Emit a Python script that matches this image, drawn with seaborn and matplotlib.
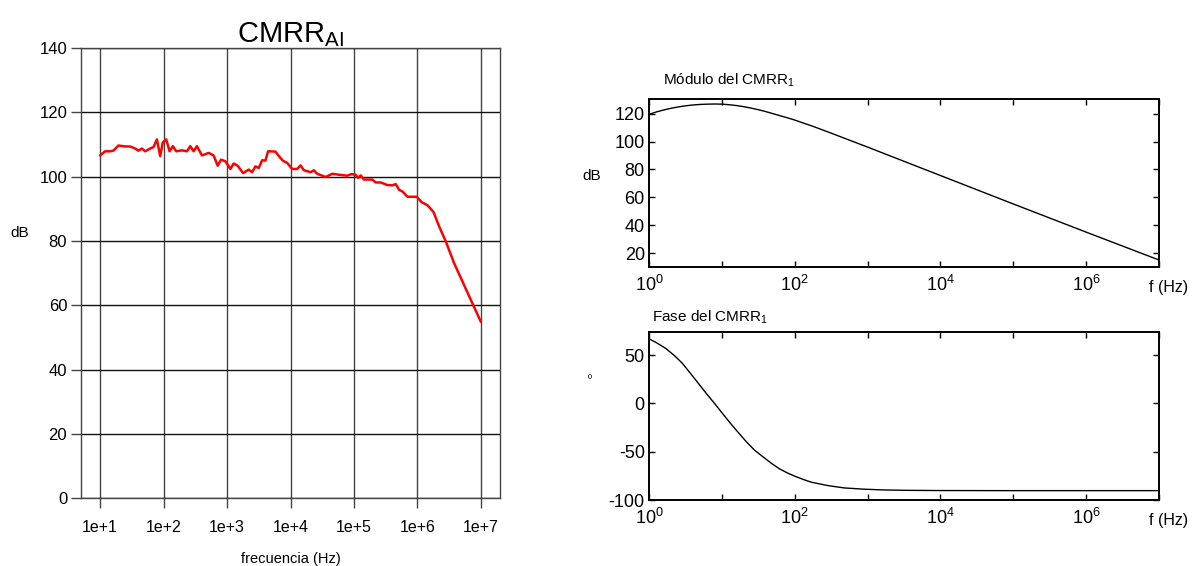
import numpy as np
import pandas as pd
import matplotlib
matplotlib.use("Agg")
import matplotlib.pyplot as plt
import matplotlib.ticker as mticker
import seaborn as sns

# ---------------------------------------------------------------------------
# Data
# ---------------------------------------------------------------------------

# Measured CMRR (left panel): log10(frequency) and dB
meas_exp = [1.0, 1.079, 1.158, 1.211, 1.289, 1.395, 1.474, 1.553, 1.605, 1.658,
            1.711, 1.789, 1.842, 1.895, 1.947, 1.989, 2.042, 2.095, 2.147, 2.2,
            2.289, 2.368, 2.421, 2.474, 2.526, 2.605, 2.711, 2.789, 2.853, 2.905,
            2.974, 3.053, 3.105, 3.168, 3.253, 3.342, 3.395, 3.447, 3.5, 3.553,
            3.605, 3.647, 3.763, 3.816, 3.884, 3.947, 4.026, 4.105, 4.158, 4.211,
            4.316, 4.368, 4.421, 4.553, 4.658, 4.763, 4.895, 4.958, 5.026, 5.063,
            5.105, 5.158, 5.289, 5.342, 5.421, 5.526, 5.605, 5.658, 5.711, 5.763,
            5.842, 5.989, 6.063, 6.158, 6.253, 6.342, 6.447, 6.579, 6.711, 6.842,
            7.0]
meas_db = [106.6, 107.9, 107.9, 108.1, 109.7, 109.4, 109.4, 108.75, 108.1, 108.75,
           107.9, 108.75, 109.2, 111.6, 106.4, 110.7, 111.6, 107.9, 109.5, 107.9,
           108.2, 107.9, 109.5, 107.9, 109.5, 106.6, 107.4, 106.6, 103.4, 105.3,
           104.8, 102.4, 104.1, 103.4, 101.1, 102.2, 101.4, 103.2, 102.7, 105.1,
           105.0, 107.9, 107.8, 106.4, 104.9, 104.3, 102.4, 102.4, 103.5, 102.0,
           101.4, 102.0, 100.9, 99.9, 100.9, 100.6, 100.3, 100.8, 100.6, 99.6,
           100.4, 99.1, 99.1, 98.2, 98.2, 97.4, 97.3, 97.7, 95.9, 95.4,
           93.75, 93.75, 92.1, 91.1, 89.0, 84.5, 79.8, 73.0, 67.3, 61.6,
           54.8]

# Simulated CMRR1 modulus (top right)
mod_exp = [0.0, 0.1, 0.2, 0.3, 0.4, 0.5, 0.6, 0.7, 0.8, 0.9, 1.0, 1.1, 1.2,
           1.3, 1.4, 1.5, 1.6, 1.7, 1.8, 1.9, 2.0, 2.25, 2.5, 3.0, 3.5, 4.0,
           4.5, 5.0, 5.5, 6.0, 6.5, 7.0]
mod_db = [119.5, 121.2, 122.6, 123.8, 124.8, 125.6, 126.2, 126.6, 126.8, 126.9,
          126.8, 126.4, 125.8, 125.0, 124.0, 122.8, 121.5, 120.0, 118.5, 117.0,
          115.4, 110.9, 106.0, 96.0, 85.8, 75.6, 65.4, 55.2, 45.1, 35.0, 25.0,
          15.0]

# Simulated CMRR1 phase (bottom right)
fase_exp = [0.0, 0.1, 0.23, 0.35, 0.456, 0.56, 0.678, 0.79, 0.9, 1.01, 1.12,
            1.23, 1.34, 1.45, 1.57, 1.68, 1.79, 1.9, 2.0, 2.12, 2.23, 2.45,
            2.68, 2.95, 3.23, 3.57, 4.0, 5.0, 6.0, 7.0]
fase_deg = [67.0, 63.0, 57.0, 49.5, 41.7, 32.0, 20.8, 10.0, 0.0, -10.5, -20.8,
            -30.5, -40.0, -48.5, -55.6, -62.0, -67.7, -72.0, -75.3, -78.8,
            -81.6, -85.0, -87.5, -88.8, -89.6, -90.0, -90.2, -90.3, -90.3, -90.3]

left_yticks = [0, 20, 40, 60, 80, 100, 120, 140]
left_xticks = [1e1, 1e2, 1e3, 1e4, 1e5, 1e6, 1e7]

meas = pd.DataFrame({"f": 10 ** np.array(meas_exp), "dB": meas_db})
mod = pd.DataFrame({"f": 10 ** np.array(mod_exp), "dB": mod_db})
fase = pd.DataFrame({"f": 10 ** np.array(fase_exp), "deg": fase_deg})

# ---------------------------------------------------------------------------
# Style
# ---------------------------------------------------------------------------
sns.set_style("white")
plt.rcParams["font.family"] = ["Liberation Sans", "DejaVu Sans"]
plt.rcParams["mathtext.fontset"] = "custom"
plt.rcParams["mathtext.rm"] = "Liberation Sans"
plt.rcParams["mathtext.it"] = "Liberation Sans"
plt.rcParams["mathtext.default"] = "regular"
plt.rcParams["axes.unicode_minus"] = False
plt.rcParams["text.color"] = "black"
plt.rcParams["axes.labelcolor"] = "black"
plt.rcParams["xtick.color"] = "black"
plt.rcParams["ytick.color"] = "black"

fig = plt.figure(figsize=(11.95, 5.66), dpi=100)
ax_l = fig.add_axes([0.0678, 0.120, 0.3506, 0.795])
ax_m = fig.add_axes([0.5431, 0.5283, 0.4268, 0.2968])
ax_f = fig.add_axes([0.5431, 0.1166, 0.4268, 0.2968])

# ---------------------------------------------------------------------------
# Left: measured CMRR_AI
# ---------------------------------------------------------------------------
sns.lineplot(data=meas, x="f", y="dB", ax=ax_l, color="#ff0000", lw=1.8)
ax_l.set_xscale("log")
ax_l.set_xlim(10 ** 0.7, 10 ** 7.3)
ax_l.set_ylim(0, 140)
ax_l.set_xticks(left_xticks)
ax_l.xaxis.set_major_formatter(
    mticker.FuncFormatter(lambda v, _: f"1e+{int(round(np.log10(v)))}"))
ax_l.xaxis.set_minor_locator(mticker.NullLocator())
ax_l.set_yticks(left_yticks)
ax_l.grid(True, which="major", axis="y", color="#111111", lw=1.0)
ax_l.grid(True, which="major", axis="x", color="#444444", lw=1.0)
for s in ax_l.spines.values():
    s.set_color("#444444")
    s.set_linewidth(1.0)
ax_l.tick_params(axis="both", direction="out", length=7, width=1,
                 bottom=True, left=True, color="#444444",
                 labelcolor="black", labelsize=12, pad=3)
ax_l.tick_params(axis="x", labelsize=11.5, pad=9)
ax_l.set_title("CMRR$_{AI}$", fontsize=21, pad=4)
ax_l.set_xlabel("frecuencia (Hz)", fontsize=10.5)
ax_l.xaxis.set_label_coords(0.5, -0.12)
ax_l.set_ylabel("dB", fontsize=11, rotation=0)
ax_l.yaxis.set_label_coords(-0.146, 0.573)

# ---------------------------------------------------------------------------
# Right: simulated CMRR1 (modulus and phase)
# ---------------------------------------------------------------------------
def matlab_axes(ax):
    ax.set_xscale("log")
    ax.set_xlim(1, 1e7)
    ax.xaxis.set_major_locator(mticker.LogLocator(base=10, numticks=20))
    ax.xaxis.set_minor_locator(mticker.NullLocator())
    ax.xaxis.set_major_formatter(mticker.FuncFormatter(
        lambda v, _: f"$10^{{{int(round(np.log10(v)))}}}$"
        if int(round(np.log10(v))) % 2 == 0 else ""))
    for s in ax.spines.values():
        s.set_color("black")
        s.set_linewidth(1.4)
    ax.tick_params(axis="both", direction="in", length=4, width=1,
                   bottom=True, left=True, top=True, right=True,
                   labelsize=13, pad=3)
    ax.tick_params(axis="x", pad=6)
    ax.text(1.018, -0.12, "f (Hz)", transform=ax.transAxes,
            ha="center", va="center", fontsize=11.5)


sns.lineplot(data=mod, x="f", y="dB", ax=ax_m, color="black", lw=1.0)
matlab_axes(ax_m)
ax_m.set_ylim(10, 130.5)
ax_m.set_yticks([20, 40, 60, 80, 100, 120])
ax_m.set_xlabel("")
ax_m.set_ylabel("dB", fontsize=11, rotation=0)
ax_m.yaxis.set_label_coords(-0.112, 0.5)
ax_m.text(0.027, 1.11, "Módulo del CMRR$_1$", transform=ax_m.transAxes,
          ha="left", va="center", fontsize=11)

sns.lineplot(data=fase, x="f", y="deg", ax=ax_f, color="black", lw=1.0)
matlab_axes(ax_f)
ax_f.set_ylim(-100, 74)
ax_f.set_yticks([-100, -50, 0, 50])
ax_f.set_xlabel("")
ax_f.set_ylabel("º", fontsize=8, rotation=0)
ax_f.yaxis.set_label_coords(-0.116, 0.69)
ax_f.text(0.006, 1.09, "Fase del CMRR$_1$", transform=ax_f.transAxes,
          ha="left", va="center", fontsize=11)

fig.savefig("out.png", dpi=100)
plt.close(fig)
